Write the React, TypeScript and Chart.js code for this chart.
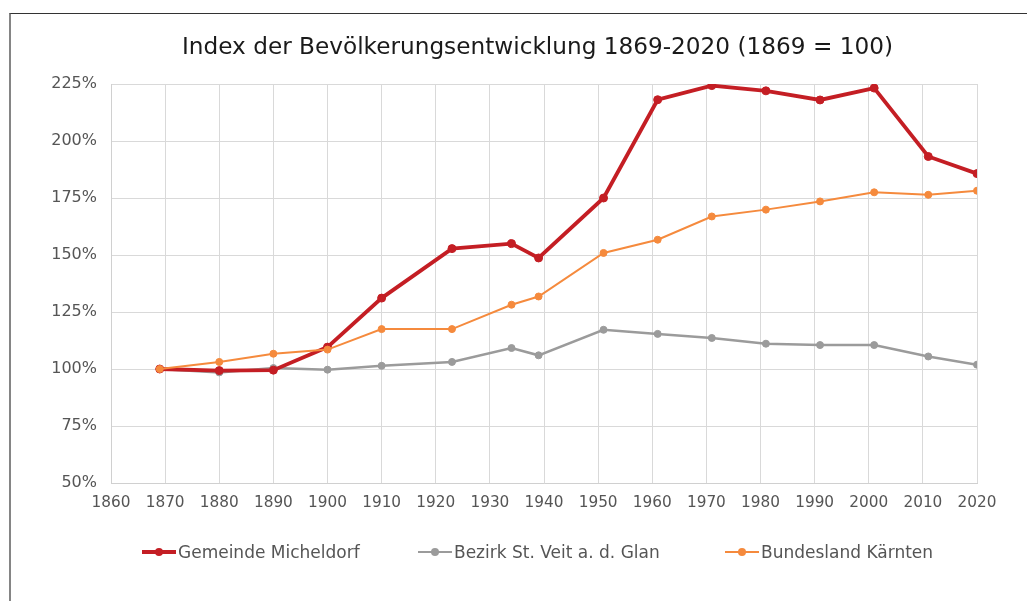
import React, { useEffect, useRef } from "react";
import { Chart, registerables } from "chart.js";

Chart.register(...registerables);

const chartTitle = "Index der Bevölkerungsentwicklung 1869-2020 (1869 = 100)";
const years = [1869, 1880, 1890, 1900, 1910, 1923, 1934, 1939, 1951, 1961, 1971, 1981, 1991, 2001, 2011, 2020];
const micheldorf = [100, 99.3, 99.5, 109.6, 131.1, 152.8, 155, 148.7, 175, 218.1, 224.3, 222, 218, 223.2, 193.2, 185.7];
const stVeit = [100, 98.5, 100.4, 99.7, 101.4, 103.1, 109.2, 106, 117.2, 115.4, 113.6, 111.1, 110.5, 110.5, 105.5, 101.9];
const kaernten = [100, 103.1, 106.7, 108.5, 117.5, 117.5, 128.2, 131.8, 150.9, 156.7, 166.9, 169.9, 173.5, 177.5, 176.4, 178.2];
const seriesNames = ["Gemeinde Micheldorf", "Bezirk St. Veit a. d. Glan", "Bundesland Kärnten"];
const seriesColors = ["#C41E24", "#9B9B9B", "#F58A3D"];
const xMin = 1860;
const xMax = 2020;
const xStep = 10;
const yMin = 50;
const yMax = 225;
const yStep = 25;

const FONT = "'DejaVu Sans', Verdana, sans-serif";

const legendPos = [142, 418, 725];
const lineWidths = [3.8, 2.5, 2];
const pointRadii = [4, 3.5, 3.5];

const toPoints = (vals: number[]) => vals.map((v, i) => ({ x: years[i], y: v }));

const titlePlugin = {
  id: "customTitle",
  afterDraw(chart: any) {
    const ctx = chart.ctx;
    ctx.save();
    ctx.font = `23.2px ${FONT}`;
    ctx.fillStyle = "#1a1a1a";
    ctx.textAlign = "center";
    ctx.textBaseline = "middle";
    ctx.fillText(chartTitle, 537.5, 48);
    ctx.restore();
  },
};

export default function App() {
  const ref = useRef<HTMLCanvasElement | null>(null);

  useEffect(() => {
    if (!ref.current) return;
    const datasets = [micheldorf, stVeit, kaernten].map((vals, i) => ({
      label: seriesNames[i],
      data: toPoints(vals),
      borderColor: seriesColors[i],
      backgroundColor: seriesColors[i],
      pointBackgroundColor: seriesColors[i],
      pointBorderColor: seriesColors[i],
      borderWidth: lineWidths[i],
      pointRadius: pointRadii[i],
      pointBorderWidth: 1,
      tension: 0,
      order: i === 0 ? 1 : i === 1 ? 2 : 0,
    }));
    const chart = new Chart(ref.current, {
      type: "line",
      data: { datasets },
      plugins: [titlePlugin],
      options: {
        animation: false,
        responsive: false,
        layout: { padding: { left: 48, right: 50, top: 84, bottom: 88 } },
        plugins: {
          legend: { display: false },
          tooltip: { enabled: false },
          title: { display: false },
        },
        scales: {
          x: {
            type: "linear",
            min: xMin,
            max: xMax,
            ticks: {
              stepSize: xStep,
              autoSkip: false,
              maxRotation: 0,
              padding: 11,
              color: "#555555",
              font: { family: FONT, size: 15.3 },
              callback: (v: any) => String(v),
            },
            grid: { color: "#d9d9d9", drawTicks: false, lineWidth: 1 },
            border: { color: "#d0d0d0" },
            afterFit: (s: any) => {
              s.height = 30;
            },
          },
          y: {
            min: yMin,
            max: yMax,
            ticks: {
              stepSize: yStep,
              padding: 14,
              color: "#555555",
              font: { family: FONT, size: 16 },
              callback: (v: any) => `${v}%`,
            },
            grid: { color: "#d9d9d9", drawTicks: false, lineWidth: 1 },
            border: { color: "#d0d0d0" },
            afterFit: (s: any) => {
              s.width = 63;
            },
          },
        },
      },
    } as any);
    return () => chart.destroy();
  }, []);

  return (
    <div style={{ position: "fixed", left: 0, top: 0, width: 1027, height: 601, background: "#fff", overflow: "hidden" }}>
      <div
        style={{
          position: "absolute",
          left: 9,
          top: 13,
          width: 1100,
          height: 700,
          borderTop: "1.5px solid #333",
          borderLeft: "2px solid #858585",
        }}
      />
      <canvas ref={ref} width={1027} height={601} style={{ position: "absolute", left: 0, top: 0, width: 1027, height: 601 }} />
      {seriesNames.map((name, i) => (
        <div
          key={name}
          style={{
            position: "absolute",
            left: legendPos[i],
            top: 541,
            height: 22,
            display: "flex",
            alignItems: "center",
            fontFamily: FONT,
            fontSize: 17,
            color: "#555555",
            whiteSpace: "nowrap",
          }}
        >
          <span style={{ position: "relative", display: "inline-block", width: 34, height: 12 }}>
            <span
              style={{
                position: "absolute",
                left: 0,
                right: 0,
                top: 6 - lineWidths[i] / 2,
                height: lineWidths[i],
                background: seriesColors[i],
              }}
            />
            <span
              style={{
                position: "absolute",
                left: 13,
                top: 2,
                width: 8,
                height: 8,
                borderRadius: 4,
                background: seriesColors[i],
              }}
            />
          </span>
          <span style={{ marginLeft: 2 }}>{name}</span>
        </div>
      ))}
    </div>
  );
}
